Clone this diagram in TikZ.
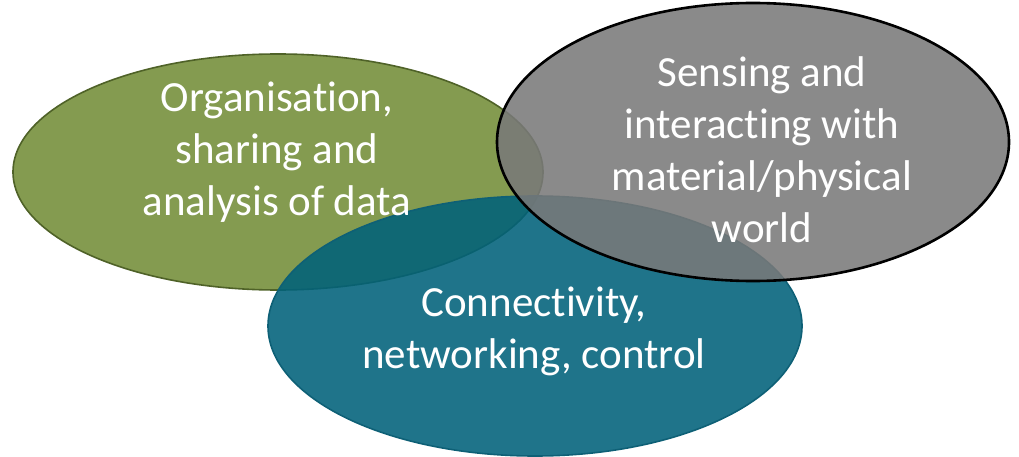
\documentclass[tikz,border=0pt]{standalone}
\usepackage{fontspec}
\setmainfont[Ligatures=NoCommon]{Carlito}
\definecolor{olivefill}{RGB}{132,155,80}
\definecolor{olivedraw}{RGB}{79,98,40}
\definecolor{tealfill}{RGB}{0,97,122}
\definecolor{tealdraw}{RGB}{14,96,118}
\definecolor{greyfill}{RGB}{121,121,121}
\tikzset{
    label text/.style={text=white, align=center, font=\fontsize{43}{52}\selectfont},
}
\begin{document}
\begin{tikzpicture}[x=1pt, y=1pt]
    \useasboundingbox (0,0) rectangle (1019,456);
    \coordinate (data) at (278,284);
    \coordinate (sense) at (753,314);
    \coordinate (net) at (535,130);

    \draw[olivedraw, line width=1.6pt, fill=olivefill] (data) ellipse [x radius=265, y radius=118];
    \draw[tealdraw, line width=1.6pt, fill=tealfill, fill opacity=0.88] (net) ellipse [x radius=267, y radius=130];
    \draw[black, line width=2.6pt, fill=greyfill, fill opacity=0.87] (sense) ellipse [x radius=256, y radius=139]; % on top

    \node[label text] (datatext) at (277,304) {Organisation,\\sharing and\\analysis of data};
    \node[label text] (sensetext) at (762,306) {Sensing and\\interacting with\\material/physical\\world};
    \node[label text] (nettext) at (534,125) {Connectivity,\\networking, control};
\end{tikzpicture}
\end{document}
